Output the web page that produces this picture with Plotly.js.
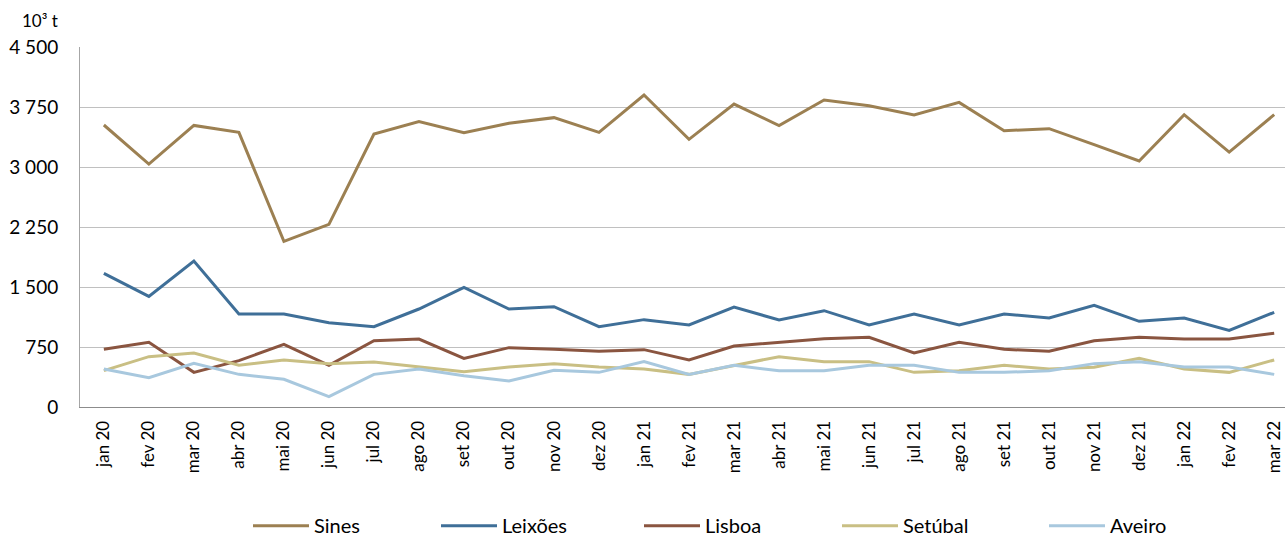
<!DOCTYPE html>
<html>
<head>
<meta charset="utf-8">
<script src="https://cdn.plot.ly/plotly-3.0.1.min.js"></script>
<style>
  html, body { margin: 0; padding: 0; background: #ffffff; }
  #myPlot { width: 1285px; height: 538px; }
</style>
</head>
<body>
<div id="myPlot"></div>
<script>

// months, jan 20 .. mar 22
const months = [
    "jan 20", "fev 20", "mar 20", "abr 20", "mai 20", "jun 20", "jul 20", "ago 20", "set 20",
    "out 20", "nov 20", "dez 20", "jan 21", "fev 21", "mar 21", "abr 21", "mai 21", "jun 21",
    "jul 21", "ago 21", "set 21", "out 21", "nov 21", "dez 21", "jan 22", "fev 22", "mar 22"
];

// values in 10^3 t
const sines = [3525, 3037, 3520, 3433, 2071, 2283, 3412, 3567, 3429, 3546, 3617, 3433, 3900, 3346,
    3787, 3517, 3837, 3765, 3650, 3808, 3454, 3479, 3279, 3075, 3654, 3187, 3654];
const leixoes = [1671, 1383, 1825, 1162, 1162, 1054, 1004, 1225, 1496, 1225, 1254, 1004, 1092, 1025,
    1250, 1087, 1204, 1025, 1162, 1025, 1162, 1112, 1271, 1071, 1112, 958, 1183];
const lisboa = [721, 808, 433, 579, 783, 521, 829, 850, 608, 742, 721, 696, 717, 588,
    762, 808, 854, 871, 675, 808, 721, 696, 829, 871, 850, 850, 921];
const setubal = [454, 629, 675, 521, 588, 542, 563, 500, 440, 500, 542, 500, 475, 408,
    521, 629, 567, 567, 433, 454, 521, 475, 496, 608, 475, 433, 588];
const aveiro = [475, 367, 546, 408, 346, 129, 408, 475, 392, 325, 458, 433, 567, 408,
    521, 454, 454, 521, 521, 433, 433, 454, 542, 567, 500, 500, 408];

const seriesNames = ["Sines", "Leixões", "Lisboa", "Setúbal", "Aveiro"];
const seriesValues = [sines, leixoes, lisboa, setubal, aveiro];
const seriesColors = ["#9C8052", "#3F6F98", "#8A5540", "#C9BF84", "#A8C8DE"];

const yTicks = [0, 750, 1500, 2250, 3000, 3750, 4500];

// left edge of each legend entry, in px of the page
const legendLeft = [248, 436, 639, 837, 1044];

function renderChart() {

    let traces = [];
    const layout = {
        width: 1285,
        height: 538,
        margin: { l: 80, r: 0, t: 47, b: 131, autoexpand: false },
        paper_bgcolor: '#ffffff',
        plot_bgcolor: '#ffffff',
        font: { family: 'Lato, "Open Sans", sans-serif', size: 16, color: '#000000' },
        separators: ', ',
        showlegend: true,
        xaxis: {
            type: 'category',
            range: [-0.53, 26.24],
            tickangle: -90,
            showgrid: false,
            showline: true,
            linecolor: '#8c8c8c',
            linewidth: 1,
            ticks: '',
            ticklabelstandoff: 6,
            tickfont: { size: 17 },
            automargin: false,
            fixedrange: true
        },
        yaxis: {
            range: [0, 4500],
            tickvals: yTicks,
            separatethousands: true,
            tickformat: ',d',
            showgrid: true,
            gridcolor: '#c0c0c0',
            gridwidth: 1,
            showline: true,
            linecolor: '#a6a6a6',
            zeroline: false,
            ticks: '',
            ticklabelstandoff: 17,
            tickfont: { size: 19 },
            automargin: false,
            fixedrange: true
        },
        annotations: [{
            text: '10³ t',
            xref: 'paper',
            yref: 'paper',
            x: 0,
            y: 1,
            xanchor: 'right',
            yanchor: 'bottom',
            xshift: -20,
            yshift: 14,
            showarrow: false,
            font: { size: 17 }
        }]
    };

    // one legend per series so each entry sits where the reference has it
    for (let i = 0; i < seriesNames.length; i++) {
        const legendId = i === 0 ? 'legend' : 'legend' + (i + 1);
        traces.push({
            x: months,
            y: seriesValues[i],
            name: seriesNames[i],
            mode: 'lines',
            type: 'scatter',
            legend: legendId,
            line: { color: seriesColors[i], width: 3 }
        });
        layout[legendId] = {
            orientation: 'h',
            xref: 'container',
            yref: 'container',
            x: legendLeft[i] / 1285,
            xanchor: 'left',
            y: 0.023,
            yanchor: 'middle',
            font: { size: 20 },
            itemwidth: 56
        };
    }

    Plotly.newPlot('myPlot', traces, layout, { displayModeBar: false, staticPlot: true });
}

renderChart();
</script>
</body>
</html>
